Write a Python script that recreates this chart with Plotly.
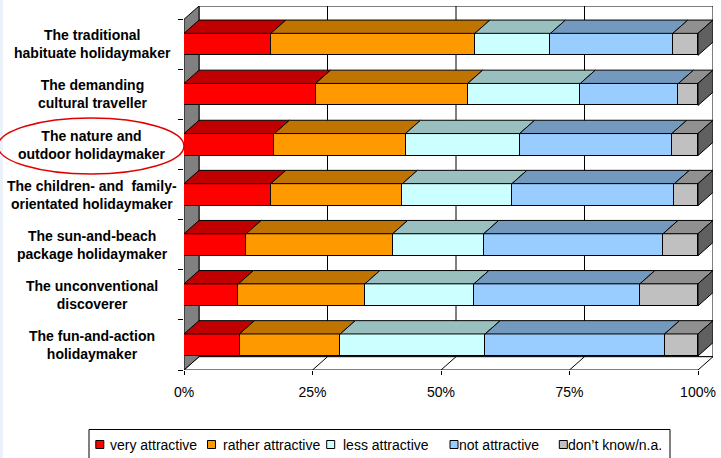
import plotly.graph_objects as go

# ---------------- data ----------------
categories = [
    "The traditional<br>habituate holidaymaker",
    "The demanding<br>cultural traveller",
    "The nature and<br>outdoor holidaymaker",
    "The children- and  family-<br>orientated holidaymaker",
    "The sun-and-beach<br>package holidaymaker",
    "The unconventional<br>discoverer",
    "The fun-and-action<br>holidaymaker",
]
very_attractive = [16.9, 25.6, 17.6, 16.9, 12.1, 10.6, 10.8]
rather_attractive = [39.7, 29.6, 25.5, 25.6, 28.5, 24.6, 19.6]
less_attractive = [14.7, 21.9, 22.2, 21.3, 17.7, 21.2, 28.2]
not_attractive = [23.8, 19.1, 29.6, 31.6, 34.9, 32.3, 34.9]
dont_know = [4.9, 3.8, 5.1, 4.6, 6.8, 11.3, 6.5]

series_names = ["very attractive", "rather attractive", "less attractive",
                "not attractive", "don\u2019t know/n.a."]
tick_values = [0, 25, 50, 75, 100]
tick_labels = ["0%", "25%", "50%", "75%", "100%"]

# ---------------- styling ----------------
front_colors = ["#FF0000", "#FF9900", "#CCFFFF", "#99CCFF", "#C0C0C0"]
top_colors = ["#C00000", "#BF7300", "#99BFBF", "#7399BF", "#909090"]
side_color = "#606060"
wall_color = "#808080"
FONT = "Liberation Sans, Arial, sans-serif"

W, H = 721, 458
ML, MR, MT, MB = 184, 8, 6, 88
PW, PH = W - ML - MR, H - MT - MB

n = len(categories)
DX = 100 * PW / 514.0 - 100          # depth offset in x data units (~15 px)
DY = 13.3 / 50.1                     # depth offset in y data units (~13 px)
BAR_H = 22 / 50.1
Y_TOP = -0.5 - DY
Y_FRONT = n - 0.5
Y_BACK = Y_FRONT - DY


def px_x(p):
    return (p - ML) / PW


def px_y(p):
    return (H - MB - p) / PH


series = [very_attractive, rather_attractive, less_attractive, not_attractive, dont_know]
ypos = list(range(n))

fig = go.Figure()

# front faces (stacked bars)
for name, vals, col in zip(series_names, series, front_colors):
    fig.add_trace(go.Bar(
        x=vals, y=ypos, orientation="h", name=name, width=BAR_H,
        marker=dict(color=col, line=dict(color="black", width=1)),
        showlegend=False, hoverinfo="x+name",
    ))

# top faces of each segment (3-D look), derived from cumulative data
cum = [0.0] * n
for vals, tcol in zip(series, top_colors):
    xs, ys = [], []
    for i in range(n):
        s = cum[i]
        e = cum[i] + vals[i]
        yt = ypos[i] - BAR_H / 2
        xs += [s, e, e + DX, s + DX, s, None]
        ys += [yt, yt, yt - DY, yt - DY, yt, None]
        cum[i] = e
    fig.add_trace(go.Scatter(
        x=xs, y=ys, mode="lines", fill="toself", fillcolor=tcol,
        line=dict(color="black", width=1), showlegend=False, hoverinfo="skip",
    ))

# right side faces at end of each stacked bar
xs, ys = [], []
for i in range(n):
    e = cum[i]
    yt = ypos[i] - BAR_H / 2
    yb = ypos[i] + BAR_H / 2
    xs += [e, e, e + DX, e + DX, e, None]
    ys += [yt, yb, yb - DY, yt - DY, yt, None]
fig.add_trace(go.Scatter(
    x=xs, y=ys, mode="lines", fill="toself", fillcolor=side_color,
    line=dict(color="black", width=1), showlegend=False, hoverinfo="skip",
))

shapes = []
# faint slide edge on the far left
shapes.append(dict(type="rect", xref="paper", yref="paper",
                   x0=px_x(0), x1=px_x(3), y0=px_y(0), y1=px_y(H),
                   fillcolor="#EAF1F9", line=dict(width=0), layer="below"))
# back wall
shapes.append(dict(type="path", xref="x", yref="y", layer="below",
                   path=f"M {DX},{Y_TOP} L {100+DX},{Y_TOP} L {100+DX},{Y_BACK} L {DX},{Y_BACK} Z",
                   fillcolor="white", line=dict(color="black", width=1)))
for t in tick_values[1:-1]:
    shapes.append(dict(type="line", xref="x", yref="y", layer="below",
                       x0=t + DX, x1=t + DX, y0=Y_TOP, y1=Y_BACK,
                       line=dict(color="black", width=1)))
# floor
shapes.append(dict(type="path", xref="x", yref="y", layer="below",
                   path=f"M 0,{Y_FRONT} L 100,{Y_FRONT} L {100+DX},{Y_BACK} L {DX},{Y_BACK} Z",
                   fillcolor="white", line=dict(color="black", width=1)))
for t in tick_values[1:-1]:
    shapes.append(dict(type="line", xref="x", yref="y", layer="below",
                       x0=t, x1=t + DX, y0=Y_FRONT, y1=Y_BACK,
                       line=dict(color="black", width=1)))
# left wall
shapes.append(dict(type="path", xref="x", yref="y", layer="below",
                   path=f"M 0,{Y_FRONT} L 0,-0.5 L {DX},{Y_TOP} L {DX},{Y_BACK} Z",
                   fillcolor=wall_color, line=dict(color="black", width=1)))

# highlight ellipse around one category label
shapes.append(dict(type="circle", xref="paper", yref="paper",
                   x0=px_x(-2), x1=px_x(184), y0=px_y(174), y1=px_y(118),
                   line=dict(color="#E00000", width=1.5), layer="above"))

annotations = []
for i, cat in enumerate(categories):
    annotations.append(dict(
        x=px_x(92), xref="paper", y=ypos[i], yref="y",
        text=f"<b>{cat}</b>", showarrow=False, xanchor="center", yanchor="middle",
        align="center", font=dict(family=FONT, size=14, color="black"),
    ))

# legend box drawn as a frame with swatches and text
shapes.append(dict(type="rect", xref="paper", yref="paper",
                   x0=px_x(89), x1=px_x(670), y0=px_y(461), y1=px_y(429.5),
                   fillcolor="white", line=dict(color="black", width=1), layer="above"))
sw_centers = [99.8, 211.5, 330.7, 454.0, 563.3]
text_starts = [108, 221, 341, 457, 566]
ly = 444.5
for name, col, cx, tx in zip(series_names, front_colors, sw_centers, text_starts):
    shapes.append(dict(type="rect", xref="paper", yref="paper",
                       x0=px_x(cx - 4), x1=px_x(cx + 4), y0=px_y(ly + 4), y1=px_y(ly - 4),
                       fillcolor=col, line=dict(color="black", width=1), layer="above"))
    annotations.append(dict(
        x=px_x(tx), xref="paper", y=px_y(ly), yref="paper", text=name,
        showarrow=False, xanchor="left", yanchor="middle",
        font=dict(family=FONT, size=14, color="black"),
    ))

fig.update_layout(
    width=W, height=H, autosize=False,
    margin=dict(l=ML, r=MR, t=MT, b=MB, pad=0),
    paper_bgcolor="white", plot_bgcolor="rgba(0,0,0,0)",
    barmode="stack", bargap=0,
    showlegend=False,
    shapes=shapes, annotations=annotations,
    font=dict(family=FONT, size=14, color="black"),
    xaxis=dict(range=[0, 100 + DX], tickvals=tick_values, ticktext=tick_labels,
               ticks="outside", ticklen=4, tickcolor="black", tickwidth=1,
               ticklabelstandoff=5,
               showgrid=False, zeroline=False, showline=False,
               tickfont=dict(family=FONT, size=14, color="black")),
    yaxis=dict(range=[Y_FRONT, Y_TOP], tickvals=[k - 0.5 for k in range(n + 1)],
               ticktext=[""] * (n + 1), ticks="outside", ticklen=5,
               tickcolor="black", tickwidth=1,
               showgrid=False, zeroline=False, showline=False),
)

fig.write_html("out.html")
